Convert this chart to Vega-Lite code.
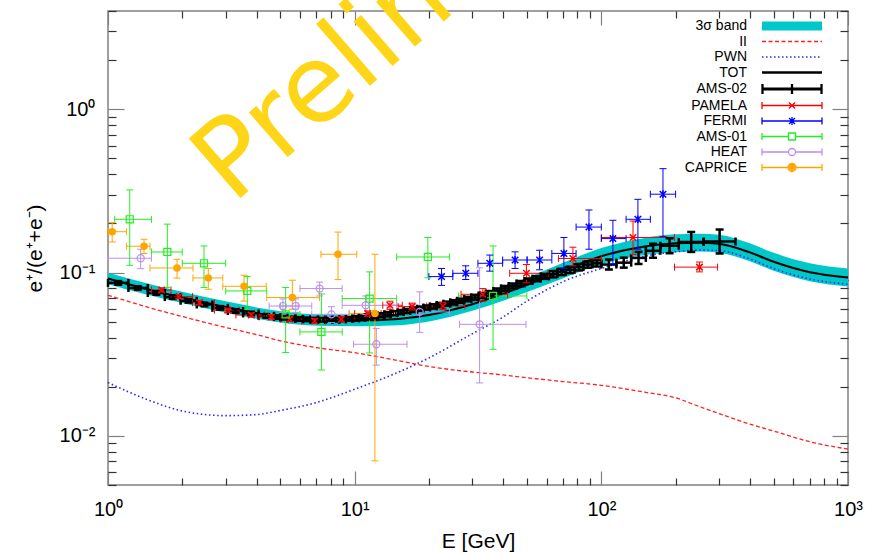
{
  "$schema": "https://vega.github.io/schema/vega-lite/v6.json",
  "width": 740,
  "height": 474,
  "autosize": {"type": "none"},
  "padding": {"left": 108, "top": 11, "right": 34, "bottom": 69},
  "background": "white",
  "config": {"view": {"stroke": "#808080", "strokeWidth": 1.5}, "font": "Liberation Sans", "legend": {"rowPadding": 1.5}},
  "datasets": {
    "model": [
      {"E":1,"TOT":0.092,"lo":0.0849,"hi":0.0997,"II":0.0726,"PWN":0.0212},
      {"E":1.5,"TOT":0.078,"lo":0.072,"hi":0.0845,"II":0.0605,"PWN":0.0163},
      {"E":2,"TOT":0.0705,"lo":0.065,"hi":0.0764,"II":0.0538,"PWN":0.0142},
      {"E":3,"TOT":0.0615,"lo":0.0567,"hi":0.0667,"II":0.0461,"PWN":0.0133},
      {"E":4,"TOT":0.0565,"lo":0.0521,"hi":0.0612,"II":0.0417,"PWN":0.0135},
      {"E":5,"TOT":0.0535,"lo":0.0494,"hi":0.058,"II":0.0382,"PWN":0.0143},
      {"E":7,"TOT":0.0512,"lo":0.0472,"hi":0.0555,"II":0.0347,"PWN":0.016},
      {"E":10,"TOT":0.0508,"lo":0.0469,"hi":0.0551,"II":0.0323,"PWN":0.0193},
      {"E":15,"TOT":0.052,"lo":0.0476,"hi":0.0568,"II":0.0289,"PWN":0.0245},
      {"E":20,"TOT":0.055,"lo":0.0502,"hi":0.0603,"II":0.0266,"PWN":0.03},
      {"E":30,"TOT":0.064,"lo":0.0584,"hi":0.0702,"II":0.0246,"PWN":0.0422},
      {"E":40,"TOT":0.074,"lo":0.0672,"hi":0.0815,"II":0.0236,"PWN":0.0535},
      {"E":50,"TOT":0.084,"lo":0.076,"hi":0.0928,"II":0.0227,"PWN":0.067},
      {"E":70,"TOT":0.103,"lo":0.0924,"hi":0.1148,"II":0.0215,"PWN":0.088},
      {"E":100,"TOT":0.126,"lo":0.1123,"hi":0.1414,"II":0.0204,"PWN":0.106},
      {"E":150,"TOT":0.1445,"lo":0.128,"hi":0.1631,"II":0.0185,"PWN":0.126},
      {"E":200,"TOT":0.151,"lo":0.133,"hi":0.1714,"II":0.0171,"PWN":0.134},
      {"E":250,"TOT":0.1525,"lo":0.1344,"hi":0.1731,"II":0.0151,"PWN":0.1374},
      {"E":300,"TOT":0.15,"lo":0.1322,"hi":0.1703,"II":0.0137,"PWN":0.1363},
      {"E":400,"TOT":0.133,"lo":0.1172,"hi":0.151,"II":0.0118,"PWN":0.1212},
      {"E":500,"TOT":0.1164,"lo":0.1026,"hi":0.1321,"II":0.0107,"PWN":0.1057},
      {"E":700,"TOT":0.1005,"lo":0.0885,"hi":0.1141,"II":0.0092,"PWN":0.0913},
      {"E":1000,"TOT":0.0932,"lo":0.0821,"hi":0.1058,"II":0.0083,"PWN":0.0849}
    ],
    "pts": [
      {"s":"AMS-02","E":1.10,"El":1.00,"Eh":1.21,"R":0.0865,"Rl":0.0843,"Rh":0.0887},
      {"s":"AMS-02","E":1.32,"El":1.21,"Eh":1.45,"R":0.0805,"Rl":0.0785,"Rh":0.0825},
      {"s":"AMS-02","E":1.57,"El":1.45,"Eh":1.70,"R":0.0750,"Rl":0.0731,"Rh":0.0769},
      {"s":"AMS-02","E":1.83,"El":1.70,"Eh":1.97,"R":0.0708,"Rl":0.0690,"Rh":0.0726},
      {"s":"AMS-02","E":2.12,"El":1.97,"Eh":2.29,"R":0.0672,"Rl":0.0655,"Rh":0.0689},
      {"s":"AMS-02","E":2.46,"El":2.29,"Eh":2.65,"R":0.0638,"Rl":0.0622,"Rh":0.0654},
      {"s":"AMS-02","E":2.85,"El":2.65,"Eh":3.06,"R":0.0608,"Rl":0.0593,"Rh":0.0623},
      {"s":"AMS-02","E":3.29,"El":3.06,"Eh":3.53,"R":0.0582,"Rl":0.0567,"Rh":0.0597},
      {"s":"AMS-02","E":3.80,"El":3.53,"Eh":4.08,"R":0.0562,"Rl":0.0548,"Rh":0.0576},
      {"s":"AMS-02","E":4.38,"El":4.08,"Eh":4.71,"R":0.0543,"Rl":0.0529,"Rh":0.0557},
      {"s":"AMS-02","E":4.86,"El":4.71,"Eh":5.01,"R":0.0534,"Rl":0.0521,"Rh":0.0547},
      {"s":"AMS-02","E":5.18,"El":5.01,"Eh":5.36,"R":0.0529,"Rl":0.0516,"Rh":0.0542},
      {"s":"AMS-02","E":5.55,"El":5.36,"Eh":5.75,"R":0.0524,"Rl":0.0511,"Rh":0.0537},
      {"s":"AMS-02","E":5.96,"El":5.75,"Eh":6.17,"R":0.0520,"Rl":0.0507,"Rh":0.0533},
      {"s":"AMS-02","E":6.39,"El":6.17,"Eh":6.62,"R":0.0517,"Rl":0.0504,"Rh":0.0530},
      {"s":"AMS-02","E":6.86,"El":6.62,"Eh":7.10,"R":0.0515,"Rl":0.0502,"Rh":0.0528},
      {"s":"AMS-02","E":7.35,"El":7.10,"Eh":7.60,"R":0.0514,"Rl":0.0501,"Rh":0.0527},
      {"s":"AMS-02","E":7.86,"El":7.60,"Eh":8.12,"R":0.0514,"Rl":0.0501,"Rh":0.0527},
      {"s":"AMS-02","E":8.39,"El":8.12,"Eh":8.66,"R":0.0515,"Rl":0.0502,"Rh":0.0528},
      {"s":"AMS-02","E":8.93,"El":8.66,"Eh":9.21,"R":0.0517,"Rl":0.0504,"Rh":0.0530},
      {"s":"AMS-02","E":9.50,"El":9.21,"Eh":9.79,"R":0.0520,"Rl":0.0507,"Rh":0.0533},
      {"s":"AMS-02","E":10.1,"El":9.79,"Eh":10.4,"R":0.0524,"Rl":0.0508,"Rh":0.0540},
      {"s":"AMS-02","E":10.7,"El":10.4,"Eh":11.0,"R":0.0529,"Rl":0.0513,"Rh":0.0545},
      {"s":"AMS-02","E":11.35,"El":11.0,"Eh":11.7,"R":0.0535,"Rl":0.0519,"Rh":0.0551},
      {"s":"AMS-02","E":12.05,"El":11.7,"Eh":12.4,"R":0.0541,"Rl":0.0525,"Rh":0.0557},
      {"s":"AMS-02","E":12.8,"El":12.4,"Eh":13.2,"R":0.0548,"Rl":0.0532,"Rh":0.0564},
      {"s":"AMS-02","E":13.6,"El":13.2,"Eh":14.0,"R":0.0556,"Rl":0.0539,"Rh":0.0573},
      {"s":"AMS-02","E":14.45,"El":14.0,"Eh":14.9,"R":0.0564,"Rl":0.0547,"Rh":0.0581},
      {"s":"AMS-02","E":15.35,"El":14.9,"Eh":15.8,"R":0.0573,"Rl":0.0556,"Rh":0.0590},
      {"s":"AMS-02","E":16.3,"El":15.8,"Eh":16.8,"R":0.0582,"Rl":0.0565,"Rh":0.0599},
      {"s":"AMS-02","E":17.35,"El":16.8,"Eh":17.9,"R":0.0591,"Rl":0.0573,"Rh":0.0609},
      {"s":"AMS-02","E":18.45,"El":17.9,"Eh":19.0,"R":0.0601,"Rl":0.0583,"Rh":0.0619},
      {"s":"AMS-02","E":19.6,"El":19.0,"Eh":20.2,"R":0.0611,"Rl":0.0593,"Rh":0.0629},
      {"s":"AMS-02","E":20.85,"El":20.2,"Eh":21.5,"R":0.0621,"Rl":0.0602,"Rh":0.0640},
      {"s":"AMS-02","E":22.2,"El":21.5,"Eh":22.9,"R":0.0633,"Rl":0.0614,"Rh":0.0652},
      {"s":"AMS-02","E":23.65,"El":22.9,"Eh":24.4,"R":0.0645,"Rl":0.0626,"Rh":0.0664},
      {"s":"AMS-02","E":25.2,"El":24.4,"Eh":26.0,"R":0.0658,"Rl":0.0638,"Rh":0.0678},
      {"s":"AMS-02","E":26.9,"El":26.0,"Eh":27.8,"R":0.0672,"Rl":0.0652,"Rh":0.0692},
      {"s":"AMS-02","E":28.75,"El":27.8,"Eh":29.7,"R":0.0688,"Rl":0.0667,"Rh":0.0709},
      {"s":"AMS-02","E":30.75,"El":29.7,"Eh":31.8,"R":0.0705,"Rl":0.0680,"Rh":0.0730},
      {"s":"AMS-02","E":32.9,"El":31.8,"Eh":34.0,"R":0.0724,"Rl":0.0699,"Rh":0.0749},
      {"s":"AMS-02","E":35.25,"El":34.0,"Eh":36.5,"R":0.0745,"Rl":0.0719,"Rh":0.0771},
      {"s":"AMS-02","E":37.8,"El":36.5,"Eh":39.2,"R":0.0772,"Rl":0.0745,"Rh":0.0799},
      {"s":"AMS-02","E":40.6,"El":39.2,"Eh":42.1,"R":0.0800,"Rl":0.0772,"Rh":0.0828},
      {"s":"AMS-02","E":43.7,"El":42.1,"Eh":45.3,"R":0.0828,"Rl":0.0799,"Rh":0.0857},
      {"s":"AMS-02","E":47.0,"El":45.3,"Eh":48.8,"R":0.0858,"Rl":0.0828,"Rh":0.0888},
      {"s":"AMS-02","E":50.7,"El":48.8,"Eh":52.6,"R":0.0888,"Rl":0.0857,"Rh":0.0919},
      {"s":"AMS-02","E":54.7,"El":52.6,"Eh":56.8,"R":0.0918,"Rl":0.0886,"Rh":0.0950},
      {"s":"AMS-02","E":59.0,"El":56.8,"Eh":61.3,"R":0.0948,"Rl":0.0915,"Rh":0.0981},
      {"s":"AMS-02","E":63.8,"El":61.3,"Eh":66.3,"R":0.0978,"Rl":0.0934,"Rh":0.1022},
      {"s":"AMS-02","E":69.0,"El":66.3,"Eh":71.8,"R":0.1010,"Rl":0.0965,"Rh":0.1055},
      {"s":"AMS-02","E":74.8,"El":71.8,"Eh":77.9,"R":0.1040,"Rl":0.0993,"Rh":0.1087},
      {"s":"AMS-02","E":81.2,"El":77.9,"Eh":84.6,"R":0.1080,"Rl":0.1031,"Rh":0.1129},
      {"s":"AMS-02","E":88.2,"El":84.6,"Eh":92.0,"R":0.1120,"Rl":0.1070,"Rh":0.1170},
      {"s":"AMS-02","E":95.9,"El":92.0,"Eh":100,"R":0.1140,"Rl":0.1089,"Rh":0.1191},
      {"s":"AMS-02","E":107.3,"El":100,"Eh":115.1,"R":0.1120,"Rl":0.1044,"Rh":0.1202},
      {"s":"AMS-02","E":123.3,"El":115.1,"Eh":132.1,"R":0.1150,"Rl":0.1072,"Rh":0.1234},
      {"s":"AMS-02","E":141.5,"El":132.1,"Eh":151.5,"R":0.1230,"Rl":0.1129,"Rh":0.1339},
      {"s":"AMS-02","E":162.1,"El":151.5,"Eh":173.5,"R":0.1360,"Rl":0.1232,"Rh":0.1502},
      {"s":"AMS-02","E":189.1,"El":173.5,"Eh":206,"R":0.1460,"Rl":0.1314,"Rh":0.1622},
      {"s":"AMS-02","E":231.4,"El":206,"Eh":260,"R":0.1540,"Rl":0.1338,"Rh":0.1773},
      {"s":"AMS-02","E":301.7,"El":260,"Eh":350,"R":0.1550,"Rl":0.1309,"Rh":0.1835},
      {"s":"PAMELA","E":1.65,"El":1.5,"Eh":1.8,"R":0.0782,"Rl":0.076,"Rh":0.0805},
      {"s":"PAMELA","E":1.94,"El":1.8,"Eh":2.2,"R":0.0713,"Rl":0.0693,"Rh":0.0733},
      {"s":"PAMELA","E":2.35,"El":2.2,"Eh":2.7,"R":0.0655,"Rl":0.0637,"Rh":0.0674},
      {"s":"PAMELA","E":3.06,"El":2.7,"Eh":3.4,"R":0.0588,"Rl":0.0571,"Rh":0.0605},
      {"s":"PAMELA","E":3.81,"El":3.3,"Eh":4.3,"R":0.055,"Rl":0.0534,"Rh":0.0566},
      {"s":"PAMELA","E":4.59,"El":4.1,"Eh":5.1,"R":0.0535,"Rl":0.0519,"Rh":0.0551},
      {"s":"PAMELA","E":5.45,"El":5.0,"Eh":6.1,"R":0.0518,"Rl":0.0502,"Rh":0.0534},
      {"s":"PAMELA","E":6.88,"El":6.1,"Eh":7.6,"R":0.0505,"Rl":0.0488,"Rh":0.0522},
      {"s":"PAMELA","E":8.83,"El":7.6,"Eh":10.0,"R":0.0518,"Rl":0.05,"Rh":0.0536},
      {"s":"PAMELA","E":11.3,"El":10.0,"Eh":12.8,"R":0.0561,"Rl":0.054,"Rh":0.0582},
      {"s":"PAMELA","E":13.9,"El":13.0,"Eh":15.6,"R":0.0631,"Rl":0.0595,"Rh":0.0668},
      {"s":"PAMELA","E":17.1,"El":15.0,"Eh":20.7,"R":0.0619,"Rl":0.059,"Rh":0.065},
      {"s":"PAMELA","E":22.8,"El":19.6,"Eh":28.0,"R":0.0624,"Rl":0.0593,"Rh":0.0657},
      {"s":"PAMELA","E":33.1,"El":27.0,"Eh":41.7,"R":0.0736,"Rl":0.0669,"Rh":0.0798},
      {"s":"PAMELA","E":49.7,"El":42.5,"Eh":61.0,"R":0.099,"Rl":0.0866,"Rh":0.112},
      {"s":"PAMELA","E":76.7,"El":67.0,"Eh":100,"R":0.122,"Rl":0.11,"Rh":0.143},
      {"s":"PAMELA","E":134.4,"El":100,"Eh":198,"R":0.164,"Rl":0.129,"Rh":0.207},
      {"s":"PAMELA","E":250,"El":198,"Eh":296,"R":0.108,"Rl":0.101,"Rh":0.116},
      {"s":"FERMI","E":22.5,"El":20,"Eh":25,"R":0.0945,"Rl":0.0835,"Rh":0.106},
      {"s":"FERMI","E":28.2,"El":25,"Eh":31.6,"R":0.099,"Rl":0.0907,"Rh":0.11},
      {"s":"FERMI","E":35.3,"El":31.6,"Eh":39.8,"R":0.114,"Rl":0.102,"Rh":0.128},
      {"s":"FERMI","E":44.7,"El":39.8,"Eh":50,"R":0.1194,"Rl":0.106,"Rh":0.134},
      {"s":"FERMI","E":56.2,"El":50,"Eh":63,"R":0.1194,"Rl":0.104,"Rh":0.137},
      {"s":"FERMI","E":70.5,"El":63,"Eh":79,"R":0.131,"Rl":0.106,"Rh":0.164},
      {"s":"FERMI","E":89.1,"El":79,"Eh":100,"R":0.19,"Rl":0.139,"Rh":0.2417},
      {"s":"FERMI","E":111.4,"El":100,"Eh":126,"R":0.1615,"Rl":0.1126,"Rh":0.209},
      {"s":"FERMI","E":140.7,"El":126,"Eh":158,"R":0.212,"Rl":0.139,"Rh":0.281},
      {"s":"FERMI","E":177.8,"El":158,"Eh":200,"R":0.302,"Rl":0.166,"Rh":0.433},
      {"s":"AMS-01","E":1.225,"El":1.065,"Eh":1.5,"R":0.212,"Rl":0.1108,"Rh":0.321},
      {"s":"AMS-01","E":1.74,"El":1.5,"Eh":2.0,"R":0.1337,"Rl":0.0811,"Rh":0.198},
      {"s":"AMS-01","E":2.45,"El":2.0,"Eh":3.0,"R":0.114,"Rl":0.0811,"Rh":0.1455},
      {"s":"AMS-01","E":3.67,"El":3.0,"Eh":4.4,"R":0.0772,"Rl":0.0596,"Rh":0.0947},
      {"s":"AMS-01","E":5.25,"El":4.4,"Eh":6.0,"R":0.0555,"Rl":0.0324,"Rh":0.0811},
      {"s":"AMS-01","E":7.33,"El":6.0,"Eh":8.9,"R":0.0433,"Rl":0.0253,"Rh":0.074},
      {"s":"AMS-01","E":11.5,"El":8.9,"Eh":14.8,"R":0.0693,"Rl":0.0322,"Rh":0.101},
      {"s":"AMS-01","E":19.8,"El":14.8,"Eh":24.2,"R":0.1246,"Rl":0.093,"Rh":0.164},
      {"s":"AMS-01","E":36.4,"El":26.4,"Eh":49.9,"R":0.0719,"Rl":0.0339,"Rh":0.1455},
      {"s":"HEAT","E":1.357,"El":1.0,"Eh":1.5,"R":0.1224,"Rl":0.1056,"Rh":0.139},
      {"s":"HEAT","E":5.12,"El":4.5,"Eh":5.9,"R":0.0624,"Rl":0.057,"Rh":0.069},
      {"s":"HEAT","E":5.77,"El":5.0,"Eh":6.7,"R":0.0624,"Rl":0.057,"Rh":0.069},
      {"s":"HEAT","E":7.21,"El":6.0,"Eh":8.9,"R":0.0798,"Rl":0.0719,"Rh":0.0874},
      {"s":"HEAT","E":8.05,"El":6.7,"Eh":9.5,"R":0.0555,"Rl":0.0494,"Rh":0.0618},
      {"s":"HEAT","E":11.08,"El":8.9,"Eh":14.8,"R":0.063,"Rl":0.0555,"Rh":0.0719},
      {"s":"HEAT","E":12.24,"El":9.9,"Eh":16.3,"R":0.0364,"Rl":0.0271,"Rh":0.0455},
      {"s":"HEAT","E":18.35,"El":14.8,"Eh":24.2,"R":0.0574,"Rl":0.043,"Rh":0.0762},
      {"s":"HEAT","E":32.1,"El":26.6,"Eh":49.5,"R":0.0482,"Rl":0.0211,"Rh":0.107},
      {"s":"CAPRICE","E":1.04,"El":1.0,"Eh":1.19,"R":0.178,"Rl":0.154,"Rh":0.202},
      {"s":"CAPRICE","E":1.4,"El":1.19,"Eh":1.48,"R":0.145,"Rl":0.131,"Rh":0.16},
      {"s":"CAPRICE","E":1.905,"El":1.48,"Eh":2.21,"R":0.1067,"Rl":0.0925,"Rh":0.1205},
      {"s":"CAPRICE","E":2.55,"El":2.21,"Eh":2.92,"R":0.0927,"Rl":0.079,"Rh":0.106},
      {"s":"CAPRICE","E":3.56,"El":2.92,"Eh":4.38,"R":0.0824,"Rl":0.0669,"Rh":0.0963},
      {"s":"CAPRICE","E":5.59,"El":4.4,"Eh":7.2,"R":0.0703,"Rl":0.0596,"Rh":0.0898},
      {"s":"CAPRICE","E":8.56,"El":7.3,"Eh":10.2,"R":0.1295,"Rl":0.0906,"Rh":0.177},
      {"s":"CAPRICE","E":12.08,"El":9.5,"Eh":14.5,"R":0.0561,"Rl":0.00703,"Rh":0.1295}
    ]
  },
  "resolve": {"axis": {"x": "independent", "y": "independent"}},
  "layer": [
    {
      "data": {"name": "model"},
      "mark": {"type": "area", "color": "#00C8C8", "interpolate": "monotone"},
      "encoding": {
        "x": {"field": "E", "type": "quantitative", "scale": {"type": "log", "domain": [1, 1000], "nice": false},
          "axis": {"orient": "bottom", "values": [1,2,3,4,5,6,7,8,9,10,20,30,40,50,60,70,80,90,100,200,300,400,500,600,700,800,900,1000],
            "labelExpr": "datum.value==1?'10⁰':datum.value==10?'10¹':datum.value==100?'10²':datum.value==1000?'10³':''",
            "tickSize": {"condition": {"test": "datum.value==1||datum.value==10||datum.value==100||datum.value==1000", "value": -14}, "value": -7},
            "tickColor": {"condition": {"test": "datum.value==1||datum.value==10||datum.value==100||datum.value==1000", "value": "#808080"}, "value": "#333333"},
            "tickWidth": 1.2, "domain": false, "grid": false, "labelOverlap": false, "labelFlush": false,
            "labelFont": "Liberation Sans", "labelFontSize": 20, "labelColor": "#000000", "labelPadding": 28,
            "title": "E [GeV]", "titleFont": "Liberation Sans", "titleFontSize": 21, "titleFontWeight": "normal", "titleColor": "#000000", "titlePadding": 4}},
        "y": {"field": "lo", "type": "quantitative", "scale": {"type": "log", "domain": [0.005, 4], "nice": false},
          "axis": {"orient": "left", "values": [0.005,0.006,0.007,0.008,0.009,0.01,0.02,0.03,0.04,0.05,0.06,0.07,0.08,0.09,0.1,0.2,0.3,0.4,0.5,0.6,0.7,0.8,0.9,1,2,3,4],
            "labelExpr": "datum.value==1?'10⁰':datum.value==0.1?'10⁻¹':datum.value==0.01?'10⁻²':''",
            "tickSize": {"condition": {"test": "datum.value==1||datum.value==0.1||datum.value==0.01", "value": -16}, "value": -8},
            "tickColor": {"condition": {"test": "datum.value==1||datum.value==0.1||datum.value==0.01", "value": "#808080"}, "value": "#333333"},
            "tickWidth": 1.2, "domain": false, "grid": false, "labelOverlap": false, "labelFlush": false,
            "labelFont": "Liberation Sans", "labelFontSize": 20, "labelColor": "#000000", "labelPadding": 29,
            "title": "e⁺/(e⁺+e⁻)", "titleFont": "Liberation Sans", "titleFontSize": 21, "titleFontWeight": "normal", "titleColor": "#000000", "titlePadding": 14}},
        "y2": {"field": "hi"}
      }
    },
    {
      "data": {"name": "model"},
      "mark": {"type": "line", "color": "#FF2020", "strokeWidth": 1.3, "strokeDash": [4, 2.5], "interpolate": "monotone"},
      "encoding": {
        "x": {"field": "E", "type": "quantitative", "scale": {"type": "log"},
          "axis": {"orient": "top", "labels": false, "title": null, "values": [1,2,3,4,5,6,7,8,9,10,20,30,40,50,60,70,80,90,100,200,300,400,500,600,700,800,900,1000],
            "tickSize": {"condition": {"test": "datum.value==1||datum.value==10||datum.value==100||datum.value==1000", "value": -14}, "value": -7},
            "tickColor": {"condition": {"test": "datum.value==1||datum.value==10||datum.value==100||datum.value==1000", "value": "#808080"}, "value": "#333333"},
            "tickWidth": 1.2, "domain": false, "grid": false}},
        "y": {"field": "II", "type": "quantitative", "scale": {"type": "log"},
          "axis": {"orient": "right", "labels": false, "title": null, "values": [0.005,0.006,0.007,0.008,0.009,0.01,0.02,0.03,0.04,0.05,0.06,0.07,0.08,0.09,0.1,0.2,0.3,0.4,0.5,0.6,0.7,0.8,0.9,1,2,3,4],
            "tickSize": {"condition": {"test": "datum.value==1||datum.value==0.1||datum.value==0.01", "value": -16}, "value": -8},
            "tickColor": {"condition": {"test": "datum.value==1||datum.value==0.1||datum.value==0.01", "value": "#808080"}, "value": "#333333"},
            "tickWidth": 1.2, "domain": false, "grid": false}}
      }
    },
    {
      "data": {"name": "model"},
      "mark": {"type": "line", "color": "#2828FF", "strokeWidth": 1.6, "strokeDash": [1.5, 2.6], "interpolate": "monotone"},
      "encoding": {
        "x": {"field": "E", "type": "quantitative", "scale": {"type": "log"}, "axis": null},
        "y": {"field": "PWN", "type": "quantitative", "scale": {"type": "log"}, "axis": null}
      }
    },
    {
      "data": {"name": "model"},
      "mark": {"type": "line", "color": "#000000", "strokeWidth": 2, "interpolate": "monotone"},
      "encoding": {
        "x": {"field": "E", "type": "quantitative", "scale": {"type": "log"}, "axis": null},
        "y": {"field": "TOT", "type": "quantitative", "scale": {"type": "log"}, "axis": null}
      }
    },
    {
      "data": {"name": "pts"},
      "mark": {"type": "rule"},
      "encoding": {
        "x": {"field": "El", "type": "quantitative", "scale": {"type": "log"}, "axis": null},
        "x2": {"field": "Eh"},
        "y": {"field": "R", "type": "quantitative", "scale": {"type": "log"}, "axis": null},
        "color": {"condition": [
          {"test": "datum.s==='AMS-02'", "value": "#000000"},
          {"test": "datum.s==='PAMELA'", "value": "#FF0000"},
          {"test": "datum.s==='FERMI'", "value": "#0000FF"},
          {"test": "datum.s==='AMS-01'", "value": "#22EE22"},
          {"test": "datum.s==='HEAT'", "value": "#BB8FEE"}], "value": "#FFA500"},
        "strokeWidth": {"condition": {"test": "datum.s==='AMS-02'", "value": 2.5}, "value": 1}
      }
    },
    {
      "data": {"name": "pts"},
      "mark": {"type": "rule"},
      "encoding": {
        "x": {"field": "E", "type": "quantitative", "scale": {"type": "log"}, "axis": null},
        "y": {"field": "Rl", "type": "quantitative", "scale": {"type": "log"}, "axis": null},
        "y2": {"field": "Rh"},
        "color": {"condition": [
          {"test": "datum.s==='AMS-02'", "value": "#000000"},
          {"test": "datum.s==='PAMELA'", "value": "#FF0000"},
          {"test": "datum.s==='FERMI'", "value": "#0000FF"},
          {"test": "datum.s==='AMS-01'", "value": "#22EE22"},
          {"test": "datum.s==='HEAT'", "value": "#BB8FEE"}], "value": "#FFA500"},
        "strokeWidth": {"condition": {"test": "datum.s==='AMS-02'", "value": 2.5}, "value": 1}
      }
    },
    {
      "data": {"name": "pts"},
      "transform": [{"fold": ["El", "Eh"], "as": ["k", "v"]}],
      "mark": {"type": "point", "shape": "M0,-1V1", "filled": false, "opacity": 1},
      "encoding": {
        "x": {"field": "v", "type": "quantitative", "scale": {"type": "log"}, "axis": null},
        "y": {"field": "R", "type": "quantitative", "scale": {"type": "log"}, "axis": null},
        "color": {"condition": [
          {"test": "datum.s==='AMS-02'", "value": "#000000"},
          {"test": "datum.s==='PAMELA'", "value": "#FF0000"},
          {"test": "datum.s==='FERMI'", "value": "#0000FF"},
          {"test": "datum.s==='AMS-01'", "value": "#22EE22"},
          {"test": "datum.s==='HEAT'", "value": "#BB8FEE"}], "value": "#FFA500"},
        "strokeWidth": {"condition": {"test": "datum.s==='AMS-02'", "value": 2.5}, "value": 1},
        "size": {"condition": {"test": "datum.s==='AMS-02'", "value": 64}, "value": 49}
      }
    },
    {
      "data": {"name": "pts"},
      "transform": [{"fold": ["Rl", "Rh"], "as": ["k", "v"]}],
      "mark": {"type": "point", "shape": "M-1,0H1", "filled": false, "opacity": 1},
      "encoding": {
        "x": {"field": "E", "type": "quantitative", "scale": {"type": "log"}, "axis": null},
        "y": {"field": "v", "type": "quantitative", "scale": {"type": "log"}, "axis": null},
        "color": {"condition": [
          {"test": "datum.s==='AMS-02'", "value": "#000000"},
          {"test": "datum.s==='PAMELA'", "value": "#FF0000"},
          {"test": "datum.s==='FERMI'", "value": "#0000FF"},
          {"test": "datum.s==='AMS-01'", "value": "#22EE22"},
          {"test": "datum.s==='HEAT'", "value": "#BB8FEE"}], "value": "#FFA500"},
        "strokeWidth": {"condition": {"test": "datum.s==='AMS-02'", "value": 2.5}, "value": 1},
        "size": {"condition": {"test": "datum.s==='AMS-02'", "value": 64}, "value": 49}
      }
    },
    {
      "data": {"name": "pts"},
      "transform": [{"filter": "datum.s==='PAMELA'"}],
      "mark": {"type": "point", "shape": "M-1,-1L1,1M-1,1L1,-1", "filled": false, "opacity": 1, "size": 42, "color": "#FF0000", "strokeWidth": 1.5},
      "encoding": {
        "x": {"field": "E", "type": "quantitative", "scale": {"type": "log"}, "axis": null},
        "y": {"field": "R", "type": "quantitative", "scale": {"type": "log"}, "axis": null}
      }
    },
    {
      "data": {"name": "pts"},
      "transform": [{"filter": "datum.s==='FERMI'"}],
      "mark": {"type": "point", "shape": "M-1,-1L1,1M-1,1L1,-1M0,-1.2V1.2", "filled": false, "opacity": 1, "size": 42, "color": "#0000FF", "strokeWidth": 1.5},
      "encoding": {
        "x": {"field": "E", "type": "quantitative", "scale": {"type": "log"}, "axis": null},
        "y": {"field": "R", "type": "quantitative", "scale": {"type": "log"}, "axis": null}
      }
    },
    {
      "data": {"name": "pts"},
      "transform": [{"filter": "datum.s==='AMS-01'"}],
      "mark": {"type": "point", "shape": "square", "filled": false, "opacity": 1, "size": 50, "color": "#22EE22", "strokeWidth": 1.2},
      "encoding": {
        "x": {"field": "E", "type": "quantitative", "scale": {"type": "log"}, "axis": null},
        "y": {"field": "R", "type": "quantitative", "scale": {"type": "log"}, "axis": null}
      }
    },
    {
      "data": {"name": "pts"},
      "transform": [{"filter": "datum.s==='HEAT'"}],
      "mark": {"type": "point", "shape": "circle", "filled": false, "opacity": 1, "size": 50, "color": "#BB8FEE", "strokeWidth": 1.2},
      "encoding": {
        "x": {"field": "E", "type": "quantitative", "scale": {"type": "log"}, "axis": null},
        "y": {"field": "R", "type": "quantitative", "scale": {"type": "log"}, "axis": null}
      }
    },
    {
      "data": {"name": "pts"},
      "transform": [{"filter": "datum.s==='CAPRICE'"}],
      "mark": {"type": "point", "shape": "circle", "filled": true, "opacity": 1, "size": 57, "color": "#FFA500"},
      "encoding": {
        "x": {"field": "E", "type": "quantitative", "scale": {"type": "log"}, "axis": null},
        "y": {"field": "R", "type": "quantitative", "scale": {"type": "log"}, "axis": null}
      }
    },
    {
      "data": {"name": "pts"},
      "transform": [{"filter": "false"}],
      "mark": {"type": "point", "filled": false, "opacity": 1},
      "encoding": {
        "x": {"field": "E", "type": "quantitative", "scale": {"type": "log"}, "axis": null},
        "y": {"field": "R", "type": "quantitative", "scale": {"type": "log"}, "axis": null},
        "color": {"field": "s", "type": "nominal",
          "scale": {"domain": ["3σ band","II","PWN","TOT","AMS-02","PAMELA","FERMI","AMS-01","HEAT","CAPRICE"],
            "range": ["#00C8C8","#FF2020","#2828FF","#000000","#000000","#FF0000","#0000FF","#22EE22","#BB8FEE","#FFA500"]},
          "legend": {"title": null, "orient": "none", "legendX": 677, "legendY": 8, "direction": "vertical",
            "symbolSize": 100, "symbolStrokeWidth": 1.3, "symbolFillColor": "transparent", "symbolOffset": 0,
            "labelFont": "Liberation Sans", "labelFontSize": 14, "labelColor": "#000000", "labelAlign": "right", "labelOffset": -52, "labelLimit": 200,
            "padding": 0}},
        "shape": {"field": "s", "type": "nominal",
          "scale": {"domain": ["3σ band","II","PWN","TOT","AMS-02","PAMELA","FERMI","AMS-01","HEAT","CAPRICE"],
            "range": [
              "M-6,-0.75H6M-6,-0.5H6M-6,-0.25H6M-6,0H6M-6,0.25H6M-6,0.5H6M-6,0.75H6",
              "M-6,0H-5.2M-4.7,0H-3.9M-3.4,0H-2.6M-2.1,0H-1.3M-0.8,0H0M0.5,0H1.3M1.8,0H2.6M3.1,0H3.9M4.4,0H5.2M5.7,0H6",
              "M-6,0H-5.7M-5.2,0H-4.9M-4.4,0H-4.1M-3.6,0H-3.3M-2.8,0H-2.5M-2,0H-1.7M-1.2,0H-0.9M-0.4,0H-0.1M0.4,0H0.7M1.2,0H1.5M2,0H2.3M2.8,0H3.1M3.6,0H3.9M4.4,0H4.7M5.2,0H5.5",
              "M-6,-0.1H6M-6,0.1H6",
              "M-6,-0.15H6M-6,0.15H6M-6,-1V1M-5.8,-1V1M5.8,-1V1M6,-1V1M-0.1,-1V1M0.1,-1V1",
              "M-6,0H6M-6,-0.7V0.7M6,-0.7V0.7M-0.6,-0.6L0.6,0.6M-0.6,0.6L0.6,-0.6",
              "M-6,0H6M-6,-0.7V0.7M6,-0.7V0.7M-0.6,-0.6L0.6,0.6M-0.6,0.6L0.6,-0.6M0,-0.8V0.8",
              "M-6,0H-0.7M0.7,0H6M-6,-0.7V0.7M6,-0.7V0.7M-0.7,-0.7H0.7V0.7H-0.7Z",
              "M-6,0H-0.7M0.7,0H6M-6,-0.7V0.7M6,-0.7V0.7M0.7,0A0.7,0.7 0 1,1 -0.7,0A0.7,0.7 0 1,1 0.7,0",
              "M-6,0H6M-6,-0.7V0.7M6,-0.7V0.7M0.8,0A0.8,0.8 0 1,1 -0.8,0A0.8,0.8 0 1,1 0.8,0M0.5,0A0.5,0.5 0 1,1 -0.5,0A0.5,0.5 0 1,1 0.5,0M0.2,0A0.2,0.2 0 1,1 -0.2,0A0.2,0.2 0 1,1 0.2,0"
            ]},
          "legend": {"title": null, "orient": "none", "legendX": 677, "legendY": 8, "direction": "vertical",
            "symbolSize": 100, "symbolStrokeWidth": 1.3, "symbolFillColor": "transparent", "symbolOffset": 0,
            "labelFont": "Liberation Sans", "labelFontSize": 14, "labelColor": "#000000", "labelAlign": "right", "labelOffset": -52, "labelLimit": 200,
            "padding": 0}}
      }
    },
    {
      "data": {"values": [{"E": 3.2, "R": 0.259, "t": "Preliminary"}]},
      "mark": {"type": "text", "angle": 319, "align": "left", "baseline": "alphabetic", "font": "DejaVu Sans", "fontSize": 108, "color": "#FFD617"},
      "encoding": {
        "x": {"field": "E", "type": "quantitative", "scale": {"type": "log"}, "axis": null},
        "y": {"field": "R", "type": "quantitative", "scale": {"type": "log"}, "axis": null},
        "text": {"field": "t"}
      }
    }
  ]
}
